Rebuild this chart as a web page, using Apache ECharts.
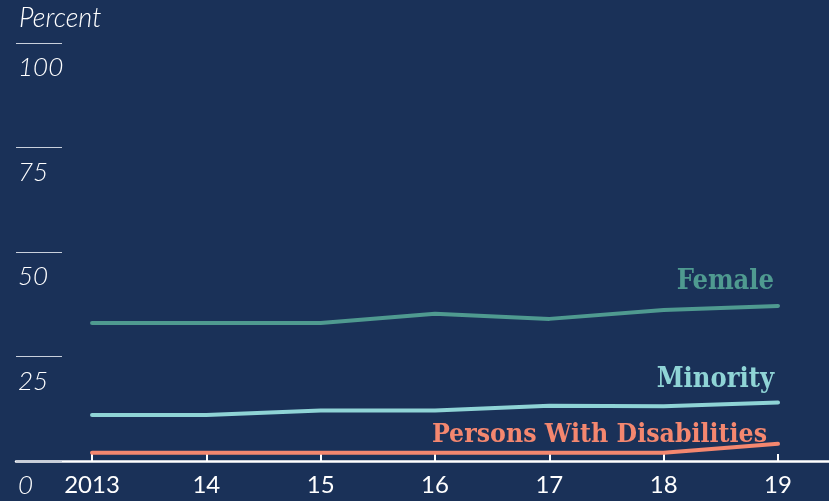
<!DOCTYPE html>
<html><head><meta charset="utf-8">
<script src="https://cdn.jsdelivr.net/npm/echarts@6/dist/echarts.min.js"></script>
<style>html,body{margin:0;padding:0;background:#1a3158;}#c{width:829px;height:501px;}</style>
</head><body><div id="c"></div>
<script>
const years = [2013, 2014, 2015, 2016, 2017, 2018, 2019];
const yearLabels = ['2013', '14', '15', '16', '17', '18', '19'];
const female = [33.0, 33.0, 33.0, 35.2, 34.0, 36.1, 37.1];
const minority = [11.0, 11.0, 12.1, 12.1, 13.2, 13.1, 14.0];
const disabilities = [2.0, 2.0, 2.0, 2.0, 2.0, 2.0, 4.1];

const chart = echarts.init(document.getElementById('c'), null, {renderer: 'canvas'});
function mk(vals, name, color, offY, offX, size) {
  return {
    type: 'line', name: name, symbol: 'none', smooth: false,
    lineStyle: {color: color, width: 4, cap: 'round'},
    z: 3,
    endLabel: {show: true, formatter: name, align: 'right', verticalAlign: 'bottom',
      distance: 0, offset: [offX, offY], color: color,
      fontFamily: 'DejaVu Serif Condensed, DejaVu Serif', fontWeight: 'bold', fontSize: size},
    data: vals.map((v, i) => [years[i], v])
  };
}
chart.setOption({
  backgroundColor: '#1a3158',
  animation: false,
  grid: {left: 16, right: 0, top: 43, bottom: 40, containLabel: false},
  xAxis: {
    type: 'value', min: 2012.335, max: 2019.446,
    splitLine: {show: false},
    axisLine: {show: true, lineStyle: {color: '#ffffff', width: 2.5}},
    axisTick: {show: true, inside: true, length: 7, customValues: years, lineStyle: {color: '#ffffff', width: 2}},
    axisLabel: {customValues: years, margin: 12, color: '#ffffff', fontFamily: 'Lato', fontSize: 24,
      formatter: v => yearLabels[years.indexOf(Math.round(v))]}
  },
  yAxis: {
    type: 'value', min: 0, max: 100, interval: 25,
    name: 'Percent', nameLocation: 'end', nameGap: 11,
    nameTextStyle: {align: 'left', color: '#ffffff', fontFamily: 'Lato', fontStyle: 'italic', fontWeight: 300, fontSize: 27, padding: [0, 0, 0, 3]},
    splitLine: {show: false},
    axisLine: {show: false},
    axisTick: {show: true, inside: true, length: 46, lineStyle: {color: '#c9d0dc', width: 1}},
    axisLabel: {inside: true, margin: 2, align: 'left', verticalAlign: 'top', padding: [12, 0, 0, 0],
      color: '#ffffff', fontFamily: 'Lato', fontStyle: 'italic', fontWeight: 300, fontSize: 26,
      formatter: v => String(v)}
  },
  series: [
    mk(female, 'Female', '#4f9a90', -10, -4, 27),
    mk(minority, 'Minority', '#8fd4d6', -9, -4, 27),
    mk(disabilities, 'Persons With Disabilities', '#f4876f', 4, -11, 26.4)
  ]
});
</script></body></html>
